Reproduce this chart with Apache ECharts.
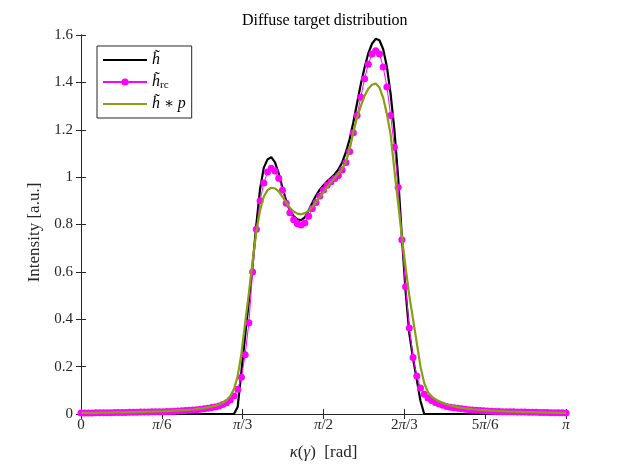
<!DOCTYPE html>
<html><head><meta charset="utf-8">
<script src="https://cdn.jsdelivr.net/npm/echarts@6/dist/echarts.min.js"></script>
<style>html,body{margin:0;padding:0;background:#fff}#c{width:623px;height:467px}</style>
</head><body><div id="c"></div>
<script>
// sampling grid: 131 samples of kappa between 0 and 180 degrees (0..pi)
const N = 131;
const kappaDeg = Array.from({length: N}, (_, i) => i * 180 / (N - 1));

const xTickLabels = ['0', 'π/6', 'π/3', 'π/2', '2π/3', '5π/6', 'π'];

// h-tilde (black)
const hTilde = [
  0,0,0,0,0,0,0,0,0,0, 0,0,0,0,0,0,0,0,0,0,
  0,0,0,0,0,0,0,0,0,0, 0,0,0,0,0,0,0,0,0,0,
  0,0,0.03,0.18,0.33,0.48,0.63,0.80,0.95,1.04,
  1.075,1.084,1.062,1.015,0.955,0.90,0.86,0.835,0.822,0.818,
  0.83,0.858,0.892,0.922,0.947,0.966,0.982,0.997,1.012,1.032,
  1.062,1.105,1.16,1.232,1.312,1.392,1.462,1.522,1.563,1.584,
  1.578,1.54,1.465,1.35,1.20,1.00,0.75,0.52,0.34,0.235,
  0.145,0.055,0,0,0,0,0,0,0,0,
  0,0,0,0,0,0,0,0,0,0, 0,0,0,0,0,0,0,0,0,0,
  0,0,0,0,0,0,0,0,0,0, 0
];

// h-tilde_rc (magenta, dots)
const hRc = [
  0.004,0.004,0.004,0.004,0.005,0.005,0.005,0.005,0.005,0.006,
  0.006,0.006,0.006,0.007,0.007,0.007,0.008,0.008,0.008,0.009,
  0.009,0.010,0.010,0.011,0.011,0.012,0.013,0.014,0.015,0.016,
  0.017,0.018,0.020,0.022,0.024,0.027,0.030,0.034,0.040,0.048,
  0.059,0.076,0.105,0.155,0.25,0.385,0.60,0.78,0.90,0.975,
  1.022,1.037,1.026,0.995,0.945,0.89,0.85,0.82,0.803,0.798,
  0.806,0.835,0.868,0.893,0.92,0.946,0.966,0.981,0.994,1.007,
  1.03,1.062,1.108,1.187,1.26,1.337,1.415,1.476,1.52,1.534,
  1.52,1.465,1.38,1.26,1.126,0.957,0.736,0.537,0.363,0.238,
  0.16,0.11,0.083,0.068,0.057,0.049,0.042,0.037,0.032,0.029,
  0.026,0.024,0.022,0.020,0.018,0.017,0.016,0.015,0.014,0.013,
  0.012,0.011,0.011,0.010,0.010,0.009,0.009,0.008,0.008,0.008,
  0.007,0.007,0.007,0.006,0.006,0.006,0.005,0.005,0.005,0.005,
  0.004
];

// h-tilde * p (olive)
const hConvP = [
  0.005,0.005,0.005,0.005,0.005,0.006,0.006,0.006,0.006,0.007,
  0.007,0.007,0.007,0.008,0.008,0.008,0.009,0.009,0.010,0.010,
  0.011,0.011,0.012,0.012,0.013,0.014,0.015,0.016,0.017,0.018,
  0.019,0.021,0.023,0.025,0.028,0.031,0.035,0.040,0.047,0.058,
  0.075,0.105,0.16,0.255,0.385,0.51,0.645,0.77,0.86,0.918,
  0.945,0.955,0.952,0.94,0.917,0.892,0.87,0.855,0.846,0.843,
  0.848,0.858,0.874,0.894,0.916,0.938,0.958,0.978,0.996,1.014,
  1.034,1.065,1.12,1.19,1.252,1.30,1.343,1.373,1.39,1.395,
  1.378,1.335,1.265,1.18,1.03,0.89,0.75,0.62,0.50,0.40,
  0.30,0.20,0.13,0.092,0.074,0.062,0.053,0.046,0.041,0.036,
  0.032,0.029,0.026,0.024,0.022,0.020,0.019,0.017,0.016,0.015,
  0.014,0.013,0.012,0.012,0.011,0.010,0.010,0.009,0.009,0.008,
  0.008,0.008,0.007,0.007,0.007,0.006,0.006,0.006,0.005,0.005,
  0.005
];

const SERIF = '"Liberation Serif", "DejaVu Serif", serif';
const AX = '#262626';
const pair = (ys) => ys.map((v, i) => [kappaDeg[i], v]);

const chart = echarts.init(document.getElementById('c'), null, {renderer: 'canvas'});
const mathRich = {
  p: {fontFamily: SERIF, fontStyle: 'italic', fontSize: 15, color: AX},
  n: {fontFamily: SERIF, fontSize: 15, color: AX}
};
const texify = (s) => s.split('π').map(t => t ? '{n|' + t + '}' : '').join('{p|π}');

chart.setOption({
  animation: false,
  backgroundColor: '#fff',
  title: {
    text: 'Diffuse target distribution',
    left: 237, top: 8,
    textStyle: {fontFamily: SERIF, fontSize: 16, fontWeight: 'normal', color: '#000'}
  },
  grid: {left: 81, right: 57, top: 35, bottom: 53, containLabel: false, outerBoundsMode: 'none'},
  legend: {
    left: 97, top: 46, orient: 'vertical',
    backgroundColor: '#fff', borderColor: AX, borderWidth: 1, borderRadius: 0,
    padding: [5, 6, 5, 5], itemWidth: 44, itemHeight: 9, itemGap: 4,
    data: [
      {name: 'h', itemStyle: {opacity: 0}},
      {name: 'hrc'},
      {name: 'hp', itemStyle: {opacity: 0}}
    ],
    formatter: (name) => ({
      h: '{i|h̃}',
      hrc: '{i|h̃}{s|rc}',
      hp: '{i|h̃} {n|∗} {i|p}'
    })[name],
    textStyle: {
      fontFamily: SERIF, fontSize: 15, color: '#000', lineHeight: 18,
      rich: {
        i: {fontFamily: SERIF, fontStyle: 'italic', fontSize: 16, lineHeight: 18, color: '#000'},
        n: {fontFamily: SERIF, fontSize: 15, lineHeight: 18, color: '#000'},
        s: {fontFamily: SERIF, fontSize: 11, lineHeight: 11, color: '#000', padding: [5, 0, 0, 0], verticalAlign: 'bottom'}
      }
    }
  },
  xAxis: [{
    type: 'value', min: 0, max: 180, interval: 30,
    axisLine: {show: true, lineStyle: {color: AX, width: 1}},
    axisTick: {show: true, inside: true, length: 5, lineStyle: {color: AX}},
    splitLine: {show: false},
    axisLabel: {
      margin: 4, color: AX,
      formatter: (v) => texify(xTickLabels[Math.round(v / 30)]),
      rich: mathRich
    },
    name: '{p|κ}{n|(}{p|γ}{n|)  [rad]}',
    nameLocation: 'middle', nameGap: 30,
    nameTextStyle: {
      color: AX,
      rich: {
        p: {fontFamily: SERIF, fontStyle: 'italic', fontSize: 17, color: AX},
        n: {fontFamily: SERIF, fontSize: 17, color: AX}
      }
    }
  }, {
    type: 'value', position: 'top', min: 0, max: 180, interval: 30,
    axisLine: {show: true, lineStyle: {color: AX, width: 1}},
    axisTick: {show: true, inside: true, length: 5, lineStyle: {color: AX}},
    axisLabel: {show: false}, splitLine: {show: false}
  }],
  yAxis: [{
    type: 'value', min: 0, max: 1.6, interval: 0.2,
    axisLine: {show: true, lineStyle: {color: AX, width: 1}},
    axisTick: {show: true, inside: true, length: 5, lineStyle: {color: AX}},
    splitLine: {show: false},
    axisLabel: {margin: 8, color: AX, fontFamily: SERIF, fontSize: 15,
      formatter: (v) => (Math.round(v * 10) / 10).toString()},
    name: 'Intensity [a.u.]', nameLocation: 'middle', nameGap: 34, nameRotate: 90,
    nameTextStyle: {fontFamily: SERIF, fontSize: 17, color: AX, padding: [0, 16, 0, 0]}
  }, {
    type: 'value', position: 'right', min: 0, max: 1.6, interval: 0.2,
    axisLine: {show: true, lineStyle: {color: AX, width: 1}},
    axisTick: {show: true, inside: true, length: 5, lineStyle: {color: AX}},
    axisLabel: {show: false}, splitLine: {show: false}
  }],
  series: [{
    name: 'h', type: 'line', data: pair(hTilde),
    symbol: 'none', lineStyle: {color: '#000', width: 2.2}, itemStyle: {color: '#000'},
    z: 2
  }, {
    name: 'hrc', type: 'line', data: pair(hRc),
    symbol: 'circle', symbolSize: 7, showAllSymbol: true,
    lineStyle: {color: '#ff00ff', width: 1}, itemStyle: {color: '#ff00ff', borderWidth: 0},
    z: 3
  }, {
    name: 'hp', type: 'line', data: pair(hConvP),
    symbol: 'none', lineStyle: {color: '#86a012', width: 2.2}, itemStyle: {color: '#86a012'},
    z: 4
  }]
});
</script></body></html>
